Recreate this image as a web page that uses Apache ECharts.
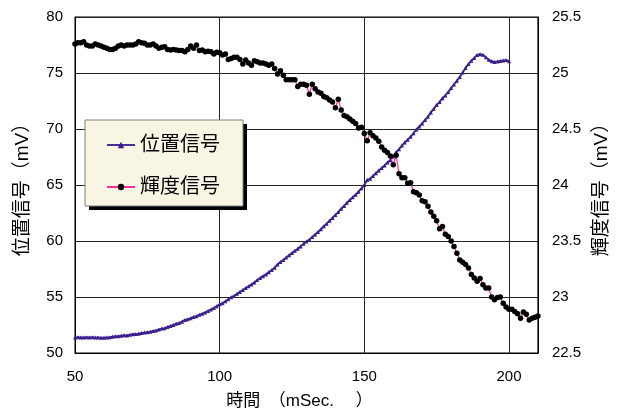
<!DOCTYPE html>
<html>
<head>
<meta charset="utf-8">
<script src="https://cdn.jsdelivr.net/npm/echarts@6/dist/echarts.min.js"></script>
<style>
html,body{margin:0;padding:0;background:#fff;}
#chart{width:619px;height:419px;}
</style>
</head>
<body>
<div id="chart"></div>
<script>
// Time axis start (mSec) and sampling step of both signals
const startTime = 50;
const stepTime = 1;

// 位置信号 (mV), t = 50 .. 200 mSec
const positionSignal = [
  51.38, 51.40, 51.38, 51.39, 51.40, 51.38, 51.40, 51.39, 51.38, 51.37,
  51.36, 51.38, 51.40, 51.45, 51.50, 51.49, 51.55, 51.58, 51.57, 51.62,
  51.68, 51.70, 51.72, 51.78, 51.82, 51.86, 51.90, 51.96, 52.02, 52.10,
  52.18, 52.22, 52.32, 52.42, 52.50, 52.62, 52.68, 52.80, 52.95, 53.02,
  53.10, 53.22, 53.28, 53.42, 53.50, 53.62, 53.75, 53.88, 54.02, 54.18,
  54.35, 54.45, 54.62, 54.80, 54.98, 55.10, 55.28, 55.45, 55.62, 55.80,
  55.96, 56.12, 56.30, 56.52, 56.70, 56.86, 57.02, 57.22, 57.40, 57.62,
  57.90, 58.12, 58.30, 58.52, 58.72, 58.92, 59.12, 59.30, 59.52, 59.75,
  59.95, 60.12, 60.35, 60.58, 60.80, 61.05, 61.32, 61.55, 61.80, 62.05,
  62.32, 62.58, 62.88, 63.12, 63.42, 63.66, 63.90, 64.12, 64.40, 64.70,
  65.00, 65.45, 65.55, 65.80, 66.05, 66.30, 66.52, 66.75, 67.00, 67.22,
  67.55, 67.92, 68.20, 68.52, 68.80, 69.05, 69.30, 69.62, 69.95, 70.22,
  70.50, 70.80, 71.10, 71.48, 71.80, 72.15, 72.40, 72.75, 73.00, 73.30,
  73.65, 73.98, 74.30, 74.65, 75.05, 75.45, 75.80, 76.10, 76.35, 76.60,
  76.68, 76.62, 76.40, 76.18, 76.05, 75.98, 76.02, 76.08, 76.12, 76.15,
  76.05
];

// 輝度信号 (mV), t = 50 .. 210 mSec
const brightnessSignal = [
  25.26, 25.27, 25.27, 25.28, 25.25, 25.24, 25.24, 25.26, 25.25, 25.24,
  25.23, 25.22, 25.21, 25.21, 25.22, 25.24, 25.25, 25.24, 25.25, 25.25,
  25.25, 25.26, 25.28, 25.27, 25.265, 25.25, 25.25, 25.26, 25.24, 25.22,
  25.23, 25.235, 25.21, 25.205, 25.21, 25.205, 25.20, 25.20, 25.19, 25.21,
  25.24, 25.22, 25.25, 25.20, 25.205, 25.19, 25.195, 25.19, 25.17, 25.185,
  25.18, 25.16, 25.17, 25.12, 25.13, 25.14, 25.14, 25.12, 25.08, 25.115,
  25.09, 25.07, 25.11, 25.10, 25.09, 25.09, 25.08, 25.07, 25.08, 25.04,
  24.99, 25.02, 24.98, 24.94, 24.94, 24.94, 24.94, 24.88, 24.90, 24.90,
  24.89, 24.81, 24.90, 24.86, 24.83, 24.82, 24.79, 24.78, 24.76, 24.74,
  24.69, 24.765, 24.67, 24.62, 24.61, 24.59, 24.57, 24.55, 24.51, 24.515,
  24.46, 24.395, 24.467, 24.44, 24.42, 24.39, 24.34, 24.31, 24.29, 24.26,
  24.18, 24.265, 24.10, 24.065, 24.065, 24.015, 24.02, 23.94, 23.93, 23.91,
  23.86, 23.85, 23.81, 23.76, 23.72, 23.68, 23.61, 23.63, 23.56, 23.54,
  23.50, 23.45, 23.39, 23.33, 23.31, 23.29, 23.26, 23.20, 23.17, 23.14,
  23.165, 23.11, 23.08, 23.08, 23.00, 22.975, 22.995, 23.00, 22.945, 22.91,
  22.89, 22.89, 22.87, 22.85, 22.81, 22.865, 22.845, 22.795, 22.81, 22.82,
  22.83
];

// Axis ranges and names
const xRange = [50, 210, 50];
const leftRange = [50, 80, 5];
const rightRange = [22.5, 25.5, 0.5];
const seriesNames = ['位置信号', '輝度信号'];
const xName = '時間　（mSec.　 ）';
const leftName = '位置信号（mV）';
const rightName = '輝度信号（mV）';

const toPairs = arr => arr.map((v, i) => [startTime + i * stepTime, v]);

const FONT = '"Liberation Sans", "Noto Sans CJK JP", sans-serif';
const chart = echarts.init(document.getElementById('chart'), null, {renderer: 'canvas'});
chart.setOption({
  animation: false,
  backgroundColor: '#ffffff',
  textStyle: {fontFamily: FONT, color: '#000'},
  grid: {left: 75, right: 78, top: 17, bottom: 66, show: true, borderColor: '#000', borderWidth: 1},
  graphic: [
    {type: 'rect', z: 3, shape: {x: 89, y: 124, width: 158, height: 86}, style: {fill: '#000'}},
    {type: 'rect', z: 3, shape: {x: 85, y: 120, width: 158, height: 86},
     style: {fill: '#f8f6e2', stroke: '#808080', lineWidth: 1}}
  ],
  legend: {
    orient: 'vertical', left: 106, top: 135,
    data: seriesNames,
    padding: 0, itemGap: 22, itemWidth: 28, itemHeight: 8,
    textStyle: {fontFamily: FONT, fontSize: 20, color: '#000'}
  },
  xAxis: {
    type: 'value', min: xRange[0], max: xRange[1], interval: xRange[2],
    name: xName, nameLocation: 'middle', nameGap: 40,
    nameTextStyle: {fontFamily: FONT, fontSize: 17, color: '#000', padding: [0, 14, 0, 0]},
    axisLine: {show: true, lineStyle: {color: '#000'}},
    axisTick: {show: false},
    axisLabel: {fontSize: 15, color: '#000', margin: 16, showMaxLabel: false, fontFamily: FONT},
    splitLine: {show: true, lineStyle: {color: '#222', width: 1}}
  },
  yAxis: [{
    type: 'value', min: leftRange[0], max: leftRange[1], interval: leftRange[2],
    name: leftName, nameLocation: 'middle', nameGap: 43, nameRotate: 90,
    nameTextStyle: {fontFamily: FONT, fontSize: 19, color: '#000'},
    axisLine: {show: true, lineStyle: {color: '#000'}},
    axisTick: {show: false},
    axisLabel: {fontSize: 15, color: '#000', margin: 12, fontFamily: FONT},
    splitLine: {show: true, lineStyle: {color: '#222', width: 1}}
  }, {
    type: 'value', min: rightRange[0], max: rightRange[1], interval: rightRange[2],
    position: 'right',
    name: rightName, nameLocation: 'middle', nameGap: 50, nameRotate: 90,
    nameTextStyle: {fontFamily: FONT, fontSize: 19, color: '#000'},
    axisLine: {show: true, lineStyle: {color: '#000'}},
    axisTick: {show: false},
    axisLabel: {fontSize: 15, color: '#000', margin: 14, fontFamily: FONT,
      formatter: v => (Math.round(v * 10) / 10).toString()},
    splitLine: {show: false}
  }],
  series: [{
    name: seriesNames[0], type: 'line', yAxisIndex: 0,
    data: toPairs(positionSignal),
    symbol: 'triangle', symbolSize: 4, showAllSymbol: true,
    itemStyle: {color: '#3a1d8a'},
    lineStyle: {color: '#4a2c9c', width: 2}
  }, {
    name: seriesNames[1], type: 'line', yAxisIndex: 1,
    data: toPairs(brightnessSignal),
    symbol: 'circle', symbolSize: 5.5, showAllSymbol: true,
    itemStyle: {color: '#000'},
    lineStyle: {color: '#ff2d95', width: 1.2}
  }]
});
</script>
</body>
</html>
